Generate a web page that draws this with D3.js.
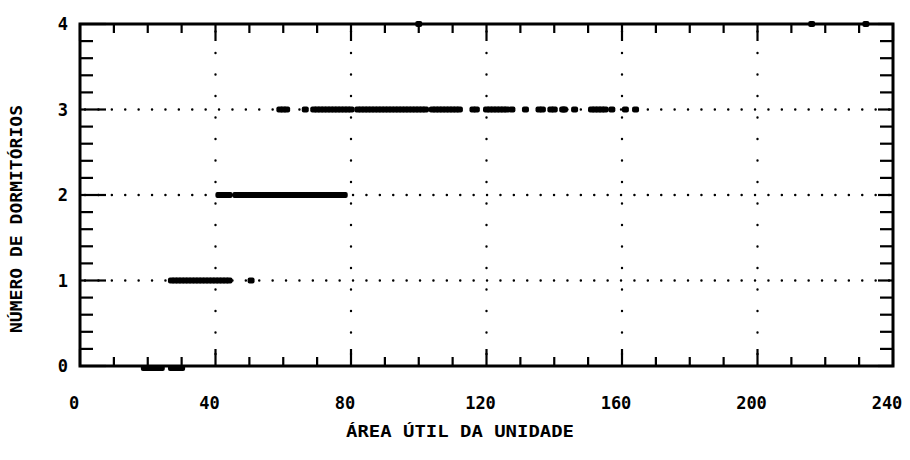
<!DOCTYPE html>
<html>
<head>
<meta charset="utf-8">
<script src="https://cdn.jsdelivr.net/npm/d3@7"></script>
<style>
  html, body { margin: 0; padding: 0; background: #fff; }
  svg { display: block; }
  text { font-family: "DejaVu Sans Mono", monospace; font-weight: bold; fill: #000; }
</style>
</head>
<body>
<svg id="chart" width="910" height="460"></svg>
<script>
// Área útil (m²) das unidades, agrupadas pelo número de dormitórios
const dorm0 = [19, 20, 21, 22, 23, 24, 27, 28, 29, 30];
const dorm1 = [27, 28, 29, 30, 31, 32, 33, 34, 35, 36, 37, 38, 39, 40, 41, 42, 43, 44, 50.5];
const dorm2 = [41, 42, 43, 44, 46, 47, 48, 49, 50, 51, 52, 53, 54, 55, 56, 57, 58, 59, 60,
               61, 62, 63, 64, 65, 66, 67, 68, 69, 70, 71, 72, 73, 74, 75, 76, 77, 78];
const dorm3 = [59, 60, 61, 66.5, 69, 70, 71, 72, 73, 74, 75, 76, 77, 78, 79, 80,
               82, 83, 84, 85, 86, 87, 88, 89, 90, 91, 92, 93, 94, 95, 96, 97, 98, 99, 100,
               101, 102, 104, 105, 106, 107, 108, 109, 110, 111, 112, 116, 117,
               120, 121, 122, 123, 124, 125, 126, 127.5, 131.5, 135.5, 136.5, 139, 140,
               142.5, 143, 146, 151, 152, 153, 154, 155, 157, 161, 164];
const dorm4 = [100, 216, 232];

const xTicks = [0, 40, 80, 120, 160, 200, 240];
const yTicks = [0, 1, 2, 3, 4];
const xTitle = "ÁREA ÚTIL DA UNIDADE";
const yTitle = "NÚMERO DE DORMITÓRIOS";

const svg = d3.select("#chart");
const x = d3.scaleLinear().domain([0, 240]).range([80, 893]);
const y = d3.scaleLinear().domain([0, 4]).range([366, 24]);

const [x0, x1] = x.range();
const [yb, yt] = y.range();

// dotted reference grid
const grid = svg.append("g").attr("stroke", "#000").attr("stroke-linecap", "round");
xTicks.filter(v => v > 0 && v < 240).forEach(v => {
  grid.append("line")
    .attr("x1", x(v)).attr("x2", x(v)).attr("y1", yt).attr("y2", yb)
    .attr("stroke-width", 2.4)
    .attr("stroke-dasharray", "0.1,21.4")
    .attr("stroke-dashoffset", -7.5);
});
yTicks.filter(v => v > 0 && v < 4).forEach(v => {
  grid.append("line")
    .attr("x1", x0).attr("x2", x1).attr("y1", y(v)).attr("y2", y(v))
    .attr("stroke-width", 2.4)
    .attr("stroke-dasharray", "0.1,13.3")
    .attr("stroke-dashoffset", -5);
});

// ticks on all four sides, pointing inward
const tickG = svg.append("g").attr("stroke", "#000").attr("stroke-width", 2.2);
d3.range(0, 241, 10).forEach(v => {
  const len = v % 40 === 0 ? 17 : 9;
  tickG.append("line").attr("x1", x(v)).attr("x2", x(v)).attr("y1", yb).attr("y2", yb - len);
  tickG.append("line").attr("x1", x(v)).attr("x2", x(v)).attr("y1", yt).attr("y2", yt + len);
});
d3.range(0, 21).map(i => i / 5).forEach(v => {
  const major = Math.abs(v - Math.round(v)) < 1e-6;
  const len = major ? 26 : 13;
  tickG.append("line").attr("x1", x0).attr("x2", x0 + len).attr("y1", y(v)).attr("y2", y(v));
  tickG.append("line").attr("x1", x1).attr("x2", x1 - (major ? 15 : 13)).attr("y1", y(v)).attr("y2", y(v));
});

// frame
svg.append("rect")
  .attr("x", x0).attr("y", yt).attr("width", x1 - x0).attr("height", yb - yt)
  .attr("fill", "none").attr("stroke", "#000").attr("stroke-width", 3);

// tick labels
svg.append("g").selectAll("text").data(xTicks).join("text")
  .attr("x", d => x(d) - 6).attr("y", 409)
  .attr("text-anchor", "middle").attr("font-size", 17)
  .text(d => d);
svg.append("g").selectAll("text").data(yTicks).join("text")
  .attr("x", 68).attr("y", d => y(d) + 6)
  .attr("text-anchor", "end").attr("font-size", 17)
  .text(d => d);

// axis titles
svg.append("text")
  .attr("x", 460).attr("y", 437)
  .attr("text-anchor", "middle").attr("font-size", 15)
  .attr("textLength", 228).attr("lengthAdjust", "spacingAndGlyphs")
  .text(xTitle);
svg.append("text")
  .attr("transform", "translate(22,219) rotate(-90)")
  .attr("text-anchor", "middle").attr("font-size", 15)
  .attr("textLength", 228).attr("lengthAdjust", "spacingAndGlyphs")
  .text(yTitle);

// data marks
const series = [[0, dorm0], [1, dorm1], [2, dorm2], [3, dorm3], [4, dorm4]];
const pts = series.flatMap(([k, vals]) => vals.map(v => ({ area: v, n: k })));
svg.append("g").selectAll("rect").data(pts).join("rect")
  .attr("x", d => x(d.area) - 3.5).attr("y", d => y(d.n) - 3 + (d.n === 0 ? 2 : 0))
  .attr("width", 7).attr("height", 6).attr("rx", 2)
  .attr("fill", "#000");
</script>
</body>
</html>
